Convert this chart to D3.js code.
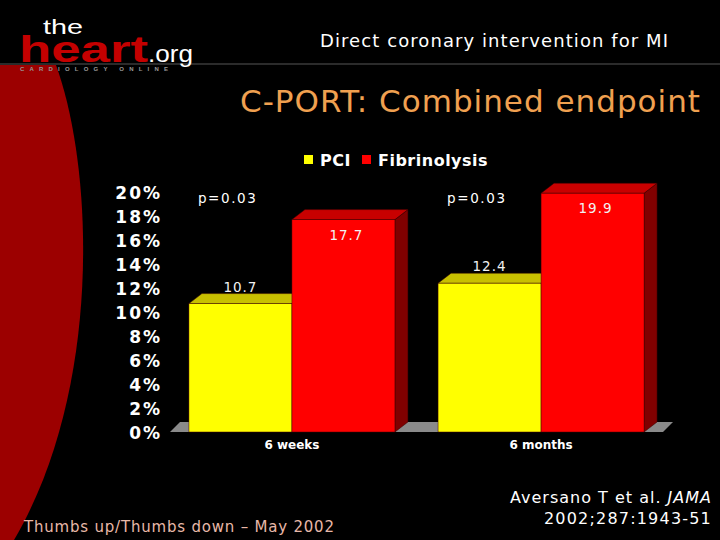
<!DOCTYPE html>
<html>
<head>
  <meta charset="utf-8">
  <script src="https://d3js.org/d3.v7.min.js"></script>
  <style>
  body { margin: 0; background: #000; }
  svg { display: block; background: #000; }
  .ytick text { font-family: "DejaVu Sans", Verdana, sans-serif; font-weight: bold; font-size: 17px; fill: #fff; letter-spacing: 2px; }
  .lbl { font-family: "DejaVu Sans", Verdana, sans-serif; font-size: 13.5px; fill: #f2f2f2; letter-spacing: 1px; }
  .pval { font-family: "DejaVu Sans", Verdana, sans-serif; font-size: 13.5px; fill: #fff; letter-spacing: 1.6px; }
  .cat { font-family: "DejaVu Sans", Verdana, sans-serif; font-weight: bold; font-size: 12px; fill: #fff; }
  .legend text { font-family: "DejaVu Sans", Verdana, sans-serif; font-weight: bold; font-size: 16px; fill: #fff; letter-spacing: 0.5px; }
  </style>
</head>
<body>
<svg id="chart" width="720" height="540"></svg>
<script>
// data
const categories = ["6 weeks", "6 months"];
const series = ["PCI", "Fibrinolysis"];
const pci = [10.7, 12.4];
const fibrinolysis = [17.7, 19.9];
const pValues = ["p=0.03", "p=0.03"];
const yTicks = [0, 2, 4, 6, 8, 10, 12, 14, 16, 18, 20];

const colors = {
  PCI: { front: "#ffff00", top: "#c8c000", side: "#9a9400" },
  Fibrinolysis: { front: "#ff0000", top: "#c80000", side: "#800000" }
};

const svg = d3.select("#chart");

// red swoosh on the left
svg.append("path")
  .attr("d", "M0,65 L56,65 C94,170 102,390 14,540 L0,540 Z")
  .attr("fill", "#9c0000");

// header line
svg.append("line")
  .attr("x1", 0).attr("x2", 720).attr("y1", 64).attr("y2", 64)
  .attr("stroke", "#3a3a3a").attr("stroke-width", 1.5);

// logo
svg.append("text").text("the")
  .attr("x", 43).attr("y", 34)
  .attr("textLength", 40).attr("lengthAdjust", "spacingAndGlyphs")
  .style("font-family", "Liberation Sans, Arial, sans-serif")
  .style("font-size", "21px").style("fill", "#fff");
svg.append("text").text("heart")
  .attr("x", 19).attr("y", 62)
  .attr("textLength", 129).attr("lengthAdjust", "spacingAndGlyphs")
  .style("font-family", "Liberation Sans, Arial, sans-serif").style("font-weight", "bold")
  .style("font-size", "36px").style("fill", "#c40000");
svg.append("text").text(".org")
  .attr("x", 148).attr("y", 62)
  .attr("textLength", 45).attr("lengthAdjust", "spacingAndGlyphs")
  .style("font-family", "Liberation Sans, Arial, sans-serif")
  .style("font-size", "23px").style("fill", "#fff");
svg.append("text").text("CARDIOLOGY ONLINE")
  .attr("x", 20).attr("y", 71)
  .attr("textLength", 148).attr("lengthAdjust", "spacing")
  .style("font-family", "Liberation Sans, Arial, sans-serif").style("font-weight", "bold")
  .style("font-size", "6px").style("fill", "#999");

// titles
svg.append("text").text("Direct coronary intervention for MI")
  .attr("x", 320).attr("y", 47)
  .attr("textLength", 348).attr("lengthAdjust", "spacing")
  .style("font-family", "DejaVu Sans, Verdana, sans-serif")
  .style("font-size", "18px").style("fill", "#fff");
svg.append("text").text("C-PORT: Combined endpoint")
  .attr("x", 240).attr("y", 112)
  .attr("textLength", 460).attr("lengthAdjust", "spacing")
  .style("font-family", "DejaVu Sans, Verdana, sans-serif")
  .style("font-size", "31px").style("fill", "#f0a050");

// scales
const y = d3.scaleLinear().domain([0, 20]).range([432, 192]);
const x0 = d3.scaleBand().domain(categories).range([170, 663])
  .paddingInner(0.173).paddingOuter(0.076);
const x1 = d3.scaleBand().domain(series).range([0, x0.bandwidth()]);
const dx = 13, dy = 10;

// floor
svg.append("path")
  .attr("d", `M170,${y(0)} L180,${y(0) - dy} L673,${y(0) - dy} L663,${y(0)} Z`)
  .attr("fill", "#8a8a8a");

// y axis
const yAxis = d3.axisLeft(y).tickValues(yTicks).tickSize(0).tickPadding(8)
  .tickFormat(d => d + "%");
const ag = svg.append("g").attr("class", "ytick").attr("transform", "translate(170,0)").call(yAxis);
ag.select(".domain").remove();
ag.selectAll("text").attr("dy", "0.36em");

// bars
const rows = categories.map((c, i) => ({ cat: c, vals: [
  { s: "PCI", v: pci[i] }, { s: "Fibrinolysis", v: fibrinolysis[i] }] }));

const groups = svg.selectAll(".grp").data(rows).enter().append("g")
  .attr("transform", d => `translate(${x0(d.cat)},0)`);

groups.each(function(d) {
  const g = d3.select(this);
  d.vals.forEach(b => {
    const xl = x1(b.s), xr = xl + x1.bandwidth(), yt = y(b.v), yb = y(0);
    const c = colors[b.s];
    g.append("path")
      .attr("d", `M${xr},${yb} L${xr + dx},${yb - dy} L${xr + dx},${yt - dy} L${xr},${yt} Z`)
      .attr("fill", c.side).attr("stroke", "#300").attr("stroke-width", 0.5);
    g.append("path")
      .attr("d", `M${xl},${yt} L${xl + dx},${yt - dy} L${xr + dx},${yt - dy} L${xr},${yt} Z`)
      .attr("fill", c.top).attr("stroke", "#300").attr("stroke-width", 0.5);
    g.append("rect")
      .attr("x", xl).attr("y", yt).attr("width", x1.bandwidth()).attr("height", yb - yt)
      .attr("fill", c.front).attr("stroke", "#400").attr("stroke-width", 0.5);
  });
});

// value labels
groups.each(function(d) {
  const g = d3.select(this);
  d.vals.forEach(b => {
    const cx = x1(b.s) + x1.bandwidth() / 2;
    const yy = b.s === "PCI" ? y(b.v) - 12 : y(b.v) + 20;
    g.append("text").attr("class", "lbl")
      .attr("x", cx + (b.s === "PCI" ? 0 : 3)).attr("y", yy)
      .attr("text-anchor", "middle").text(b.v.toFixed(1));
  });
});

// p values
groups.append("text").attr("class", "pval")
  .attr("x", 9).attr("y", y(20) + 11)
  .text((d, i) => pValues[i]);

// category labels
groups.append("text").attr("class", "cat")
  .attr("x", x0.bandwidth() / 2).attr("y", 449)
  .attr("text-anchor", "middle").text(d => d.cat);

// legend
const lg = svg.append("g").attr("class", "legend");
const legX = [304, 362];
series.forEach((s, i) => {
  lg.append("rect").attr("x", legX[i]).attr("y", 155).attr("width", 9).attr("height", 9)
    .attr("fill", colors[s].front);
  lg.append("text").attr("x", legX[i] + 16).attr("y", 166).text(s);
});

// footer
svg.append("text").text("Thumbs up/Thumbs down \u2013 May 2002")
  .attr("x", 24).attr("y", 532)
  .attr("textLength", 310).attr("lengthAdjust", "spacing")
  .style("font-family", "DejaVu Sans, Tahoma, sans-serif")
  .style("font-size", "15px").style("fill", "#e8b8a8");
const ref = svg.append("text")
  .attr("x", 712).attr("y", 503).attr("text-anchor", "end")
  .style("font-family", "DejaVu Sans, Tahoma, sans-serif")
  .style("font-size", "16px").style("fill", "#fff").style("letter-spacing", "1px");
ref.append("tspan").text("Aversano T et al. ");
ref.append("tspan").text("JAMA").style("font-style", "italic");
svg.append("text").text("2002;287:1943-51")
  .attr("x", 712).attr("y", 524).attr("text-anchor", "end")
  .style("font-family", "DejaVu Sans, Tahoma, sans-serif")
  .style("font-size", "16px").style("fill", "#fff").style("letter-spacing", "1.2px");
</script>
</body>
</html>
